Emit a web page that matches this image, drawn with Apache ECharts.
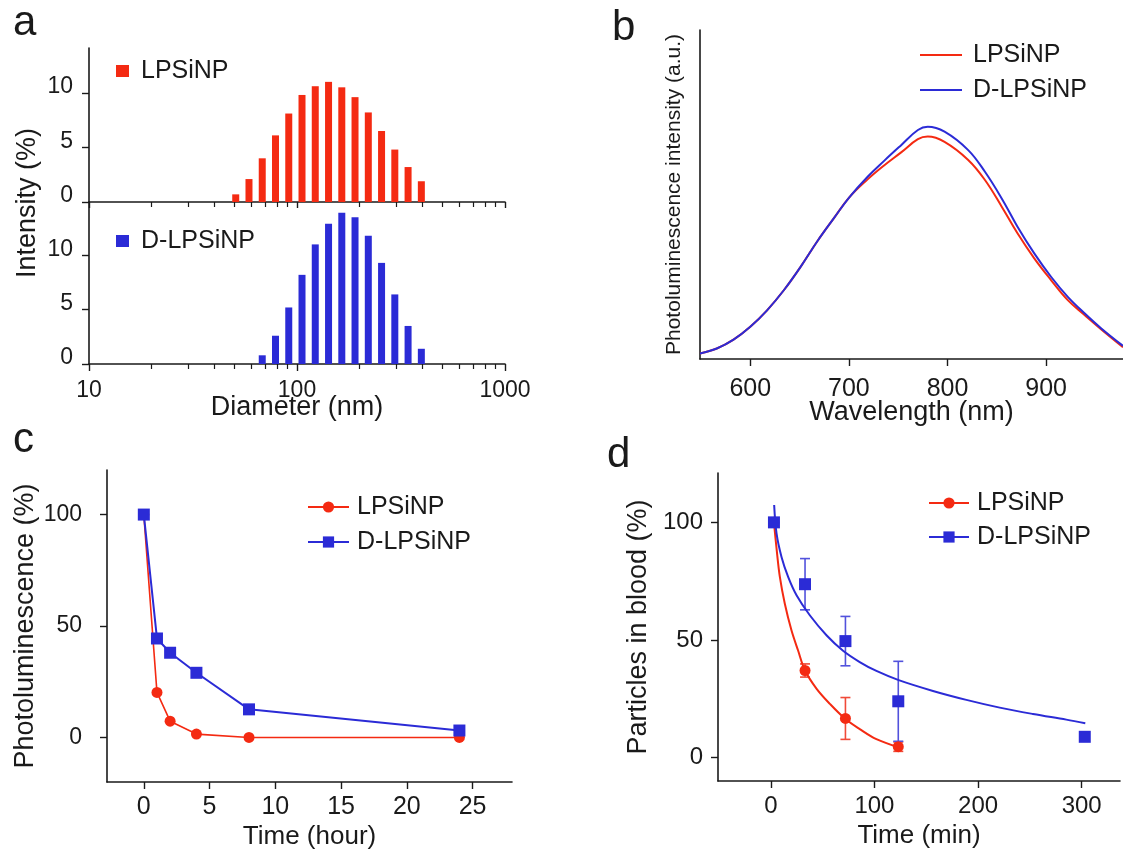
<!DOCTYPE html>
<html>
<head>
<meta charset="utf-8">
<title>LPSiNP / D-LPSiNP</title>
<script src="https://cdn.jsdelivr.net/npm/echarts@6/dist/echarts.min.js"></script>
<style>
    html, body { margin: 0; padding: 0; background: #fff; }
    #chart { width: 1123px; height: 850px; }
</style>
</head>
<body>
<div id="chart"></div>
<script>
; (function () {

    /* =================== data ============================================ */

    // a: DLS size distribution (intensity %)
    var dlsDiameter = [50.75, 58.77, 68.06, 78.82, 91.28, 105.7, 122.4, 141.8, 164.2, 190.1, 220.2, 255.0, 295.3, 342.0, 396.1];
    var dlsLPSiNP = [0.7, 2.1, 4.0, 6.1, 8.1, 9.8, 10.6, 11.0, 10.5, 9.6, 8.2, 6.5, 4.8, 3.2, 1.9];
    var dlsDLPSiNP = [null, null, 0.8, 2.6, 5.2, 8.2, 11.0, 12.9, 13.9, 13.5, 11.8, 9.3, 6.4, 3.5, 1.4];
    var intensityTicks = [0, 5, 10];

    // b: photoluminescence spectra (a.u.)
    var wavelength = [549, 566, 583, 600, 617, 634, 651, 668, 685, 700, 719, 736, 753, 770, 780, 797, 821, 838, 855, 871, 888, 905, 922, 939, 956, 978];
    var spectrumLPSiNP = [1.7, 3.2, 5.9, 9.8, 14.8, 20.9, 28.0, 35.8, 42.9, 49.0, 54.6, 58.9, 62.8, 66.8, 67.6, 66.0, 60.5, 54.4, 46.3, 38.2, 30.6, 24.0, 17.9, 13.4, 9.0, 3.6];
    var spectrumDLPSiNP = [1.7, 3.2, 5.9, 9.8, 14.8, 20.9, 28.0, 35.8, 42.9, 49.0, 55.4, 60.3, 65.0, 69.6, 70.6, 69.1, 63.5, 56.9, 48.8, 40.2, 32.1, 25.0, 18.9, 13.9, 9.3, 4.0];
    var wavelengthTicks = [600, 700, 800, 900];

    // c: photoluminescence decay in PBS
    var timeHour = [0, 1, 2, 4, 8, 24];
    var plLPSiNP = [100, 20.2, 7.3, 1.5, 0, 0];
    var plDLPSiNP = [100, 44.4, 38.0, 29.0, 12.6, 3.1];
    var hourTicks = [0, 5, 10, 15, 20, 25];
    var percentTicks = [0, 50, 100];

    // d: particles in blood, measured points with error bars
    var timeMinLPSiNP = [3, 33, 72, 123];
    var bloodLPSiNP = [100, 37.0, 16.6, 4.6];
    var bloodLPSiNPErr = [0, 2.8, 8.9, 2.0];
    var timeMinDLPSiNP = [3, 33, 72, 123, 303];
    var bloodDLPSiNP = [100, 73.7, 49.5, 23.9, 8.8];
    var bloodDLPSiNPErr = [0, 10.9, 10.5, 17.0, 1.5];
    // d: fitted clearance curves
    var fitTimeLPSiNP = [3, 5.5, 8.7, 13.5, 19.9, 26.3, 33, 44.2, 57, 71.4, 85.8, 101.9, 123.4];
    var fitLPSiNP = [100, 88.9, 76.8, 65.4, 54.1, 45.5, 37.0, 29.2, 22.8, 16.6, 12.1, 7.8, 4.3];
    var fitTimeDLPSiNP = [3.2, 5.5, 10.3, 16.7, 24.8, 37.6, 53.7, 69.7, 85.8, 101.9, 123.4, 156.5, 188.7, 220.9, 253, 285.2, 303.5];
    var fitDLPSiNP = [107.4, 95.3, 85.3, 76.8, 69.0, 60.5, 52.0, 45.4, 40.6, 36.8, 32.9, 28.3, 24.5, 21.2, 18.5, 16.1, 14.6];
    var minuteTicks = [0, 100, 200, 300];

    /* =================== styles ======================== */

    var FONT = 'Liberation Sans, Arial, Helvetica, sans-serif';
    var INK = '#1a1a1a';
    var RED = '#f42a12';
    var BLUE = '#2b2bd6';
    var RED_ERR = '#f04a38';
    var BLUE_ERR = '#5252dc';

    function pairs(xs, ys) {
        return xs.map(function (x, i) { return [x, ys[i]]; });
    }
    function triples(xs, ys, es) {
        return xs.map(function (x, i) { return [x, ys[i], es[i]]; });
    }
    function stripName(name) {
        return name.split('|')[1];
    }
    function txt(size) {
        return { fontSize: size, fontFamily: FONT, color: INK };
    }
    var line = { show: true, onZero: false, lineStyle: { color: INK, width: 1.6 } };

    // bars of panel a, drawn on the log axis
    function renderBar(params, api) {
        var h = api.value(1);
        if (!(h > 0)) return;
        var top = api.coord([api.value(0), h]);
        var base = api.coord([api.value(0), 0]);
        return {
            type: 'rect',
            shape: { x: top[0] - 3.5, y: top[1], width: 7, height: base[1] - top[1] },
            style: { fill: api.visual('color') }
        };
    }

    // error bars of panel d
    function renderErr(params, api) {
        var t = api.value(0), y = api.value(1), e = api.value(2);
        if (!(e > 0)) return;
        var hi = api.coord([t, y + e]);
        var lo = api.coord([t, y - e]);
        var st = { stroke: api.visual('color'), lineWidth: 1.6 };
        return {
            type: 'group',
            children: [
                { type: 'line', shape: { x1: hi[0], y1: hi[1], x2: lo[0], y2: lo[1] }, style: st },
                { type: 'line', shape: { x1: hi[0] - 5, y1: hi[1], x2: hi[0] + 5, y2: hi[1] }, style: st },
                { type: 'line', shape: { x1: lo[0] - 5, y1: lo[1], x2: lo[0] + 5, y2: lo[1] }, style: st }
            ]
        };
    }

    function legend(names, left, top, w, h, gap, pad, icon) {
        return {
            orient: 'vertical',
            left: left,
            top: top,
            itemWidth: w,
            itemHeight: h,
            itemGap: gap,
            icon: icon,
            selectedMode: false,
            formatter: stripName,
            textStyle: { fontSize: 25, fontFamily: FONT, color: INK, padding: [0, 0, 0, pad] },
            data: names
        };
    }

    var myChart = echarts.init(document.getElementById('chart'));

    var option = {
        animation: false,
        backgroundColor: '#fff',
        title: [
            { text: 'a', left: 8, top: -3, textStyle: { fontSize: 42, fontWeight: 'normal', fontFamily: FONT, color: INK } },
            { text: 'b', left: 607, top: 2, textStyle: { fontSize: 42, fontWeight: 'normal', fontFamily: FONT, color: INK } },
            { text: 'c', left: 8, top: 414, textStyle: { fontSize: 42, fontWeight: 'normal', fontFamily: FONT, color: INK } },
            { text: 'd', left: 602, top: 429, textStyle: { fontSize: 42, fontWeight: 'normal', fontFamily: FONT, color: INK } }
        ],
        graphic: [
            {
                type: 'text',
                x: 27.5,
                y: 203,
                rotation: Math.PI / 2,
                style: { text: 'Intensity (%)', fontSize: 27, fontFamily: FONT, fill: INK, align: 'center', verticalAlign: 'middle' }
            }
        ],
        legend: [
            legend(['a|LPSiNP'], 111, 53.5, 13, 12, 10, 7, 'rect'),
            legend(['a|D-LPSiNP'], 111, 223.5, 13, 12, 10, 7, 'rect'),
            legend(['b|LPSiNP', 'b|D-LPSiNP'], 915, 37.5, 42, 2, 10, 6, 'rect'),
            legend(['c|LPSiNP', 'c|D-LPSiNP'], 302, 489.5, 41, 14, 10, 3),
            legend(['d|LPSiNP', 'd|D-LPSiNP'], 923, 485.5, 40, 14, 9, 3)
        ],
        grid: [
            { left: 89, top: 48, width: 416, height: 154, containLabel: false, outerBoundsMode: 'none' },
            { left: 89, top: 202, width: 416, height: 162, containLabel: false, outerBoundsMode: 'none' },
            { left: 700, top: 30, width: 423, height: 329, containLabel: false, outerBoundsMode: 'none' },
            { left: 107, top: 470, width: 405, height: 312, containLabel: false, outerBoundsMode: 'none' },
            { left: 718, top: 473, width: 402, height: 308, containLabel: false, outerBoundsMode: 'none' }
        ],
        xAxis: [
            {
                gridIndex: 0, type: 'log', logBase: 10, min: 10, max: 1000,
                axisLine: line,
                axisTick: { show: true, length: 6, lineStyle: { color: INK, width: 1.4 } },
                minorTick: { show: true, splitNumber: 9, length: 5, lineStyle: { color: INK, width: 1.2 } },
                axisLabel: { show: false },
                splitLine: { show: false },
                minorSplitLine: { show: false }
            },
            {
                gridIndex: 1, type: 'log', logBase: 10, min: 10, max: 1000,
                axisLine: line,
                axisTick: { show: true, length: 7, lineStyle: { color: INK, width: 1.4 } },
                minorTick: { show: true, splitNumber: 9, length: 5, lineStyle: { color: INK, width: 1.2 } },
                axisLabel: Object.assign(txt(23), { margin: 15, formatter: function (v) { return String(Math.round(v)); } }),
                splitLine: { show: false },
                minorSplitLine: { show: false },
                name: 'Diameter (nm)', nameLocation: 'middle', nameGap: 30, nameMoveOverlap: false,
                nameTextStyle: txt(27)
            },
            {
                gridIndex: 2, type: 'value', min: 549, max: 978,
                axisLine: line,
                axisTick: { show: true, length: 7, customValues: wavelengthTicks, lineStyle: { color: INK, width: 1.4 } },
                axisLabel: Object.assign(txt(25), { margin: 18, customValues: wavelengthTicks }),
                splitLine: { show: false },
                name: 'Wavelength (nm)', nameLocation: 'middle', nameGap: 40, nameMoveOverlap: false,
                nameTextStyle: txt(27)
            },
            {
                gridIndex: 3, type: 'value', min: -2.8, max: 28,
                axisLine: line,
                axisTick: { show: true, length: 7, customValues: hourTicks, lineStyle: { color: INK, width: 1.4 } },
                axisLabel: Object.assign(txt(25), { margin: 13, customValues: hourTicks }),
                splitLine: { show: false },
                name: 'Time (hour)', nameLocation: 'middle', nameGap: 42, nameMoveOverlap: false,
                nameTextStyle: txt(26)
            },
            {
                gridIndex: 4, type: 'value', min: -51, max: 337,
                axisLine: line,
                axisTick: { show: true, length: 7, customValues: minuteTicks, lineStyle: { color: INK, width: 1.4 } },
                axisLabel: Object.assign(txt(24), { margin: 13, customValues: minuteTicks }),
                splitLine: { show: false },
                name: 'Time (min)', nameLocation: 'middle', nameGap: 42, nameMoveOverlap: false,
                nameTextStyle: txt(26)
            }
        ],
        yAxis: [
            {
                gridIndex: 0, type: 'value', min: 0, max: 14.1,
                axisLine: line,
                axisTick: { show: true, length: 7, customValues: intensityTicks, lineStyle: { color: INK, width: 1.4 } },
                axisLabel: Object.assign(txt(23), { margin: 16, customValues: intensityTicks, verticalAlign: 'bottom', lineHeight: 12 }),
                splitLine: { show: false }
            },
            {
                gridIndex: 1, type: 'value', min: 0, max: 14.9,
                axisLine: line,
                axisTick: { show: true, length: 7, customValues: intensityTicks, lineStyle: { color: INK, width: 1.4 } },
                axisLabel: Object.assign(txt(23), { margin: 16, customValues: intensityTicks, verticalAlign: 'bottom', lineHeight: 12 }),
                splitLine: { show: false }
            },
            {
                gridIndex: 2, type: 'value', min: 0, max: 100,
                axisLine: line,
                axisTick: { show: false },
                axisLabel: { show: false },
                splitLine: { show: false },
                name: 'Photoluminescence intensity (a.u.)', nameLocation: 'middle', nameGap: 15, nameMoveOverlap: false,
                nameTextStyle: txt(21)
            },
            {
                gridIndex: 3, type: 'value', min: -20, max: 120,
                axisLine: line,
                axisTick: { show: true, length: 7, customValues: percentTicks, lineStyle: { color: INK, width: 1.4 } },
                axisLabel: Object.assign(txt(23), { margin: 25, customValues: percentTicks }),
                splitLine: { show: false },
                name: 'Photoluminescence (%)', nameLocation: 'middle', nameGap: 68, nameMoveOverlap: false,
                nameTextStyle: txt(27)
            },
            {
                gridIndex: 4, type: 'value', min: -10, max: 121,
                axisLine: line,
                axisTick: { show: true, length: 7, customValues: percentTicks, lineStyle: { color: INK, width: 1.4 } },
                axisLabel: Object.assign(txt(24), { margin: 15, customValues: percentTicks }),
                splitLine: { show: false },
                name: 'Particles in blood (%)', nameLocation: 'middle', nameGap: 66, nameMoveOverlap: false,
                nameTextStyle: txt(27)
            }
        ],
        series: [
            // a
            {
                name: 'a|LPSiNP', type: 'custom', xAxisIndex: 0, yAxisIndex: 0,
                itemStyle: { color: RED }, encode: { x: 0, y: 1 },
                renderItem: renderBar, data: pairs(dlsDiameter, dlsLPSiNP)
            },
            {
                name: 'a|D-LPSiNP', type: 'custom', xAxisIndex: 1, yAxisIndex: 1,
                itemStyle: { color: BLUE }, encode: { x: 0, y: 1 },
                renderItem: renderBar, data: pairs(dlsDiameter, dlsDLPSiNP)
            },
            // b
            {
                name: 'b|LPSiNP', type: 'line', xAxisIndex: 2, yAxisIndex: 2,
                symbol: 'none', smooth: 0.4, color: RED, lineStyle: { width: 2, color: RED },
                data: pairs(wavelength, spectrumLPSiNP)
            },
            {
                name: 'b|D-LPSiNP', type: 'line', xAxisIndex: 2, yAxisIndex: 2,
                symbol: 'none', smooth: 0.4, color: BLUE, lineStyle: { width: 2, color: BLUE },
                data: pairs(wavelength, spectrumDLPSiNP)
            },
            // c
            {
                name: 'c|LPSiNP', type: 'line', xAxisIndex: 3, yAxisIndex: 3,
                symbol: 'circle', symbolSize: 11, color: RED,
                lineStyle: { width: 1.6, color: RED }, itemStyle: { color: RED },
                data: pairs(timeHour, plLPSiNP)
            },
            {
                name: 'c|D-LPSiNP', type: 'line', xAxisIndex: 3, yAxisIndex: 3,
                symbol: 'rect', symbolSize: 12, color: BLUE,
                lineStyle: { width: 2, color: BLUE }, itemStyle: { color: BLUE },
                data: pairs(timeHour, plDLPSiNP)
            },
            // d
            {
                name: 'errLPSiNP', type: 'custom', xAxisIndex: 4, yAxisIndex: 4,
                itemStyle: { color: RED_ERR }, encode: { x: 0, y: 1 }, z: 1,
                renderItem: renderErr, data: triples(timeMinLPSiNP, bloodLPSiNP, bloodLPSiNPErr)
            },
            {
                name: 'errDLPSiNP', type: 'custom', xAxisIndex: 4, yAxisIndex: 4,
                itemStyle: { color: BLUE_ERR }, encode: { x: 0, y: 1 }, z: 1,
                renderItem: renderErr, data: triples(timeMinDLPSiNP, bloodDLPSiNP, bloodDLPSiNPErr)
            },
            {
                name: 'd|LPSiNP', type: 'line', xAxisIndex: 4, yAxisIndex: 4,
                symbol: 'circle', showSymbol: false, smooth: 0.35, color: RED,
                lineStyle: { width: 2, color: RED }, itemStyle: { color: RED }, z: 2,
                data: pairs(fitTimeLPSiNP, fitLPSiNP)
            },
            {
                name: 'd|D-LPSiNP', type: 'line', xAxisIndex: 4, yAxisIndex: 4,
                symbol: 'rect', showSymbol: false, smooth: 0.35, color: BLUE,
                lineStyle: { width: 2, color: BLUE }, itemStyle: { color: BLUE }, z: 2,
                data: pairs(fitTimeDLPSiNP, fitDLPSiNP)
            },
            {
                name: 'ptLPSiNP', type: 'scatter', xAxisIndex: 4, yAxisIndex: 4,
                symbol: 'circle', symbolSize: 11, itemStyle: { color: RED, opacity: 1 }, z: 3,
                data: pairs(timeMinLPSiNP, bloodLPSiNP)
            },
            {
                name: 'ptDLPSiNP', type: 'scatter', xAxisIndex: 4, yAxisIndex: 4,
                symbol: 'rect', symbolSize: 12, itemStyle: { color: BLUE, opacity: 1 }, z: 4,
                data: pairs(timeMinDLPSiNP, bloodDLPSiNP)
            }
        ]
    };

    myChart.setOption(option);
}());
</script>
</body>
</html>
